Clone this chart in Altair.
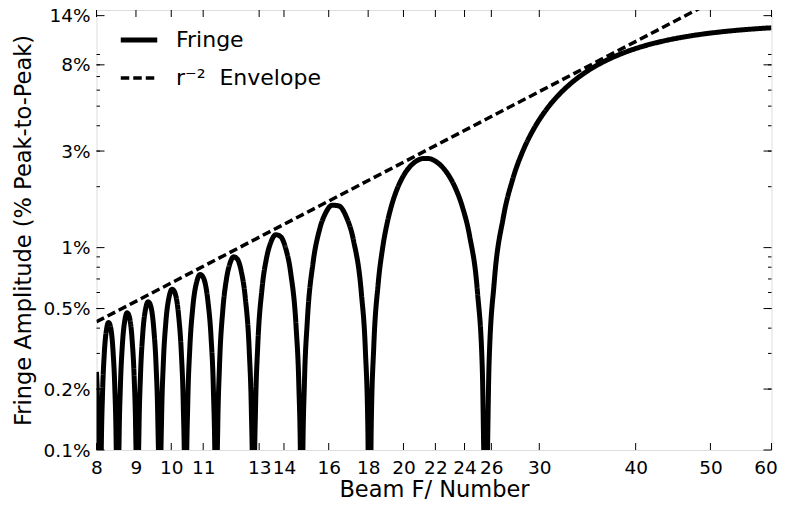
import altair as alt
import pandas as pd

# ---- data ----
fringe_f = [
    8.000, 8.023, 8.051, 8.063, 8.081,
    8.0848, 8.0949, 8.1153, 8.1441, 8.1857, 8.2494, 8.2928, 8.3368, 8.4041, 8.4499, 8.4824, 8.5058, 8.5176,
    8.5224, 8.5342, 8.5581, 8.5919, 8.6409, 8.7159, 8.7670, 8.8190, 8.8989, 8.9533, 8.9920, 9.0199, 9.0340,
    9.0397, 9.0538, 9.0824, 9.1228, 9.1815, 9.2716, 9.3332, 9.3961, 9.4928, 9.5589, 9.6061, 9.6402, 9.6574,
    9.6642, 9.6815, 9.7165, 9.7660, 9.8381, 9.9492, 10.0255, 10.1035, 10.2240, 10.3068, 10.3659, 10.4088, 10.4305,
    10.4392, 10.4610, 10.5051, 10.5678, 10.6593, 10.8011, 10.8988, 10.9993, 11.1553, 11.2631, 11.3404, 11.3966, 11.4250,
    11.4365, 11.4537, 11.4884, 11.5469, 11.6665, 11.7900, 11.9174, 12.0491, 12.1852, 12.3261, 12.4720, 12.6232, 12.7009, 12.7482, 12.7720,
    12.7880, 12.8121, 12.8607, 12.9428, 13.1120, 13.2880, 13.4713, 13.6624, 13.8618, 14.0703, 14.2885, 14.5171, 14.6356, 14.7082, 14.7448,
    14.7693, 14.8065, 14.8816, 15.0093, 15.2750, 15.5553, 15.8517, 16.1656, 16.4990, 16.8537, 17.2325, 17.6381, 17.8519, 17.9839, 18.0511,
    18.0963, 18.1648, 18.3039, 18.5432, 18.7920, 19.0513, 19.3215, 19.6036, 19.8985, 20.2070, 20.5303, 20.8698, 21.2264, 21.6021,
    21.9985, 22.4176, 22.8617, 23.3329, 23.8348, 24.3705, 24.9439, 25.3082, 25.4963,
    25.6241, 25.8195, 26.2240, 26.9427, 27.7238, 28.5768, 29.5140, 30.5500, 31.7031, 32.9977, 34.4651, 36.1471,
    38.1026, 40.4136, 43.2042, 46.6662, 51.1200, 54.4943, 57.1543, 60.0000,
]
fringe_amp = [
    0.243, 0.181, 0.100, 0.063, 0.0064,
    0.0064, 0.0382, 0.1015, 0.1867, 0.2938, 0.4013, 0.4263, 0.4099, 0.3096, 0.2010, 0.1110, 0.0422, 0.0071,
    0.0071, 0.0425, 0.1129, 0.2078, 0.3273, 0.4480, 0.4766, 0.4586, 0.3472, 0.2256, 0.1247, 0.0475, 0.0079,
    0.0079, 0.0479, 0.1272, 0.2343, 0.3695, 0.5069, 0.5400, 0.5206, 0.3951, 0.2572, 0.1422, 0.0543, 0.0090,
    0.0091, 0.0547, 0.1455, 0.2685, 0.4243, 0.5838, 0.6231, 0.6019, 0.4583, 0.2990, 0.1657, 0.0632, 0.0106,
    0.0106, 0.0639, 0.1701, 0.3143, 0.4981, 0.6879, 0.7365, 0.7135, 0.5455, 0.3571, 0.1983, 0.0757, 0.0127,
    0.0127, 0.0511, 0.1280, 0.2555, 0.4961, 0.6972, 0.8375, 0.9002, 0.8756, 0.7621, 0.5669, 0.3053, 0.1565, 0.0633, 0.0159,
    0.0159, 0.0640, 0.1604, 0.3209, 0.6265, 0.8857, 1.0701, 1.1573, 1.1331, 0.9930, 0.7441, 0.4037, 0.2077, 0.0842, 0.0212,
    0.0212, 0.0853, 0.2148, 0.4316, 0.8503, 1.2137, 1.4818, 1.6202, 1.6053, 1.4248, 1.0823, 0.5960, 0.3091, 0.1259, 0.0317,
    0.0318, 0.1285, 0.3249, 0.6587, 0.9941, 1.3228, 1.6367, 1.9276, 2.1870, 2.4078, 2.5810, 2.7004, 2.7590, 2.7519,
    2.6730, 2.5207, 2.2913, 1.9841, 1.5991, 1.1378, 0.6034, 0.2493, 0.0633,
    0.0647, 0.2627, 0.6750, 1.4077, 2.1899, 3.0125, 3.8655, 4.7384, 5.6202, 6.4992, 7.3629, 8.2000,
    8.9991, 9.7488, 10.4374, 11.0563, 11.5964, 11.8790, 12.0500, 12.1940,
]
envelope_f = [8.0, 60.0]
envelope_amp = [0.43, 23.3]
series_names = ["Fringe", "r\u207b\u00b2\u00a0\u00a0Envelope"]

x_tick_values = [8, 9, 10, 11, 13, 14, 16, 18, 20, 22, 24, 26, 30, 40, 50, 60]
y_tick_values = [0.1, 0.2, 0.5, 1, 3, 8, 14]
y_minor_values = [0.2, 0.3, 0.4, 0.5, 0.6, 0.7, 0.8, 0.9, 2, 3, 4, 5, 6, 7, 8, 9]

# ---- layout / style ----
W, H = 675, 440
FONT = "DejaVu Sans"

data = pd.DataFrame({
    "F": fringe_f + envelope_f,
    "A": fringe_amp + envelope_amp,
    "series": [series_names[0]] * len(fringe_f) + [series_names[1]] * len(envelope_f),
})
xt = pd.DataFrame({"F": x_tick_values})
yt = pd.DataFrame({"A": y_tick_values})
ym = pd.DataFrame({"A": y_minor_values})

x_scale = alt.Scale(type="log", domain=[8, 60], nice=False)
y_scale = alt.Scale(type="log", domain=[0.1, 14.93], nice=False)

x_axis = alt.Axis(
    values=x_tick_values, title="Beam F/ Number", ticks=False, tickSize=0,
    domain=False, grid=False, labelFlush=False, labelOverlap=False, labelBound=False,
    labelOffset={"condition": {"test": "datum.value == 60", "value": -6}, "value": 0},
    labelPadding=8, labelFont=FONT, labelFontSize=18.5, labelColor="black",
    titleFont=FONT, titleFontSize=22.5, titleFontWeight="normal", titleColor="black",
    titlePadding=2,
)
y_axis = alt.Axis(
    values=y_tick_values, labelExpr="datum.value + '%'",
    title="Fringe Amplitude (% Peak-to-Peak)", ticks=False, tickSize=0,
    domain=False, grid=False, labelFlush=False, labelOverlap=False, labelBound=False,
    labelPadding=6.5, labelFont=FONT, labelFontSize=18.5, labelColor="black",
    titleFont=FONT, titleFontSize=22.5, titleFontWeight="normal", titleColor="black",
    titlePadding=8,
)

legend = alt.Legend(
    title=None, orient="none", legendX=21.5, legendY=9,
    symbolType="stroke", symbolSize=1330, symbolStrokeColor="black",
    labelFont=FONT, labelFontSize=22, labelColor="black", labelOffset=16,
    rowPadding=7, padding=0,
)

lines = alt.Chart(data).mark_line(
    clip=True, interpolate="monotone", color="black", strokeCap="butt"
).encode(
    x=alt.X("F:Q", scale=x_scale, axis=x_axis),
    y=alt.Y("A:Q", scale=y_scale, axis=y_axis),
    strokeDash=alt.StrokeDash("series:N", scale=alt.Scale(domain=series_names, range=[[1, 0], [8.5, 4]]), legend=legend),
    strokeWidth=alt.StrokeWidth("series:N", scale=alt.Scale(domain=series_names, range=[5, 3.5]), legend=legend),
)

tick_style = dict(color="black", strokeWidth=1)
x_bottom = alt.Chart(xt).mark_rule(**tick_style).encode(
    x=alt.X("F:Q", scale=x_scale, axis=x_axis), y=alt.value(H - 7), y2=alt.value(H))
x_top = alt.Chart(xt).mark_rule(**tick_style).encode(
    x=alt.X("F:Q", scale=x_scale, axis=x_axis), y=alt.value(0), y2=alt.value(7))
y_left = alt.Chart(yt).mark_rule(**tick_style).encode(
    y=alt.Y("A:Q", scale=y_scale, axis=y_axis), x=alt.value(0), x2=alt.value(8))
y_right = alt.Chart(yt).mark_rule(**tick_style).encode(
    y=alt.Y("A:Q", scale=y_scale, axis=y_axis), x=alt.value(W - 8), x2=alt.value(W))
ym_left = alt.Chart(ym).mark_rule(**tick_style).encode(
    y=alt.Y("A:Q", scale=y_scale, axis=y_axis), x=alt.value(0), x2=alt.value(3.5))
ym_right = alt.Chart(ym).mark_rule(**tick_style).encode(
    y=alt.Y("A:Q", scale=y_scale, axis=y_axis), x=alt.value(W - 3.5), x2=alt.value(W))

chart = alt.layer(lines, x_bottom, x_top, y_left, y_right, ym_left, ym_right).properties(
    width=W, height=H,
    padding={"left": 88.5, "top": 2, "right": 6, "bottom": 49},
    autosize=alt.AutoSizeParams(type="none"),
    background="white",
).configure_view(stroke="black", strokeWidth=1.3).configure(font=FONT)

chart.save("out.html", embed_options={"renderer": "svg", "actions": False})
